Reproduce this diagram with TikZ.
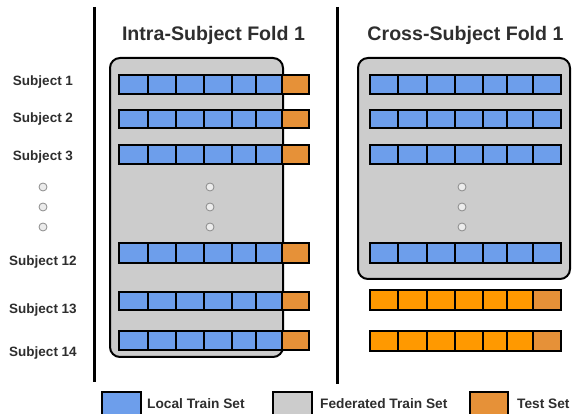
\documentclass[tikz,border=0pt]{standalone}
\usepackage{fontspec}
\setmainfont{Liberation Sans}
\definecolor{localblue}{HTML}{6D9EEB}
\definecolor{fedgray}{HTML}{CCCCCC}
\definecolor{testorange}{HTML}{E69138}
\definecolor{brightorange}{HTML}{FF9900}
\definecolor{inkgray}{HTML}{2E2E2E}
\definecolor{dotfill}{HTML}{ECECEC}
\definecolor{dotline}{HTML}{8A8A8A}
\tikzset{
  cell/.style={draw=black, line width=2pt, inner sep=0pt, outer sep=0pt},
  fedbox/.style={draw=black, fill=fedgray, line width=2pt, rounded corners=10pt, inner sep=0pt},
  divider/.style={draw=black, line width=3pt},
  foldtitle/.style={font=\bfseries\fontsize{19.6}{22}\selectfont, text=inkgray, anchor=base, inner sep=0pt},
  subjlabel/.style={font=\bfseries\fontsize{13.5}{15}\selectfont, text=inkgray, anchor=base, inner sep=0pt},
  legendtext/.style={font=\bfseries\fontsize{13.7}{15}\selectfont, text=inkgray, anchor=base west, inner sep=0pt},
  swatch/.style={draw=black, line width=2pt, inner sep=0pt},
  ellipsisdot/.style={circle, draw=dotline, fill=dotfill, line width=0.8pt, minimum size=8pt, inner sep=0pt}
}
\begin{document}
\begin{tikzpicture}[x=1pt,y=-1pt]
\useasboundingbox (0,0) rectangle (582,414);
\clip (0,0) rectangle (582,414);

% dividers between the label column and the two folds
\coordinate (divAtop) at (94,7);
\coordinate (divAbot) at (94,382);
\coordinate (divBtop) at (337,7);
\coordinate (divBbot) at (337,384);
\draw[divider] (divAtop) -- (divAbot);
\draw[divider] (divBtop) -- (divBbot);

% fold titles
\node[foldtitle] (titleIntra) at (213.5,41) {Intra-Subject Fold 1};
\node[foldtitle] (titleCross) at (465.5,41) {Cross-Subject Fold 1};

% subject labels
\foreach \y/\txt [count=\k] in {86/Subject 1, 123/Subject 2, 161/Subject 3, 266/Subject 12, 314/Subject 13, 357/Subject 14}
  \node[subjlabel] (subj\k) at (43,\y) {\txt};

% federated train sets
\node[fedbox, minimum width=173pt, minimum height=299pt] (fedIntra) at (196.5,207.5) {};
\node[fedbox, minimum width=212pt, minimum height=221pt] (fedCross) at (464,168.5) {};

% intra-subject rows: six local train blocks and one test block
\foreach \top/\bot [count=\r] in {75/94, 110/128, 145/164, 243/263, 292/310, 331/350} {
  \foreach \a/\b [count=\c] in {119/148, 148/176, 176/204, 204/232, 232/256, 256/282, 282/309} {
    \ifnum\c=7 \def\fc{testorange}\else\def\fc{localblue}\fi
    \node[cell, fill=\fc, minimum width={(\b-\a)*1pt}, minimum height={(\bot-\top)*1pt}]
      (intra-\r-\c) at ({(\a+\b)/2},{(\top+\bot)/2}) {};
  }
}

% cross-subject rows: four training subjects, two test subjects
\foreach \top/\bot/\kind [count=\r] in {75/94/0, 110/128/0, 145/164/0, 243/263/0, 290/310/1, 331/351/1} {
  \foreach \a/\b [count=\c] in {370/398, 398/427, 427/455, 455/483, 483/507, 507/533, 533/561} {
    \ifnum\kind=0 \def\fc{localblue}\else
      \ifnum\c=7 \def\fc{testorange}\else\def\fc{brightorange}\fi
    \fi
    \node[cell, fill=\fc, minimum width={(\b-\a)*1pt}, minimum height={(\bot-\top)*1pt}]
      (cross-\r-\c) at ({(\a+\b)/2},{(\top+\bot)/2}) {};
  }
}

% vertical ellipses for the omitted subjects
\foreach \y [count=\k] in {187,207,227} {
  \node[ellipsisdot] (dotLabel\k) at (43,\y) {};
  \node[ellipsisdot] (dotIntra\k) at (210,\y) {};
  \node[ellipsisdot] (dotCross\k) at (462,\y) {};
}

% legend
\node[swatch, fill=localblue, minimum width=39pt, minimum height=26pt] (keyLocal) at (121.5,405) {};
\node[legendtext] (keyLocalText) at (147,409) {Local Train Set};
\node[swatch, fill=fedgray, minimum width=39pt, minimum height=26pt] (keyFed) at (292.5,405) {};
\node[legendtext] (keyFedText) at (320,409) {Federated Train Set};
\node[swatch, fill=testorange, minimum width=38pt, minimum height=26pt] (keyTest) at (489,405) {};
\node[legendtext] (keyTestText) at (517,409) {Test Set};
\end{tikzpicture}
\end{document}
